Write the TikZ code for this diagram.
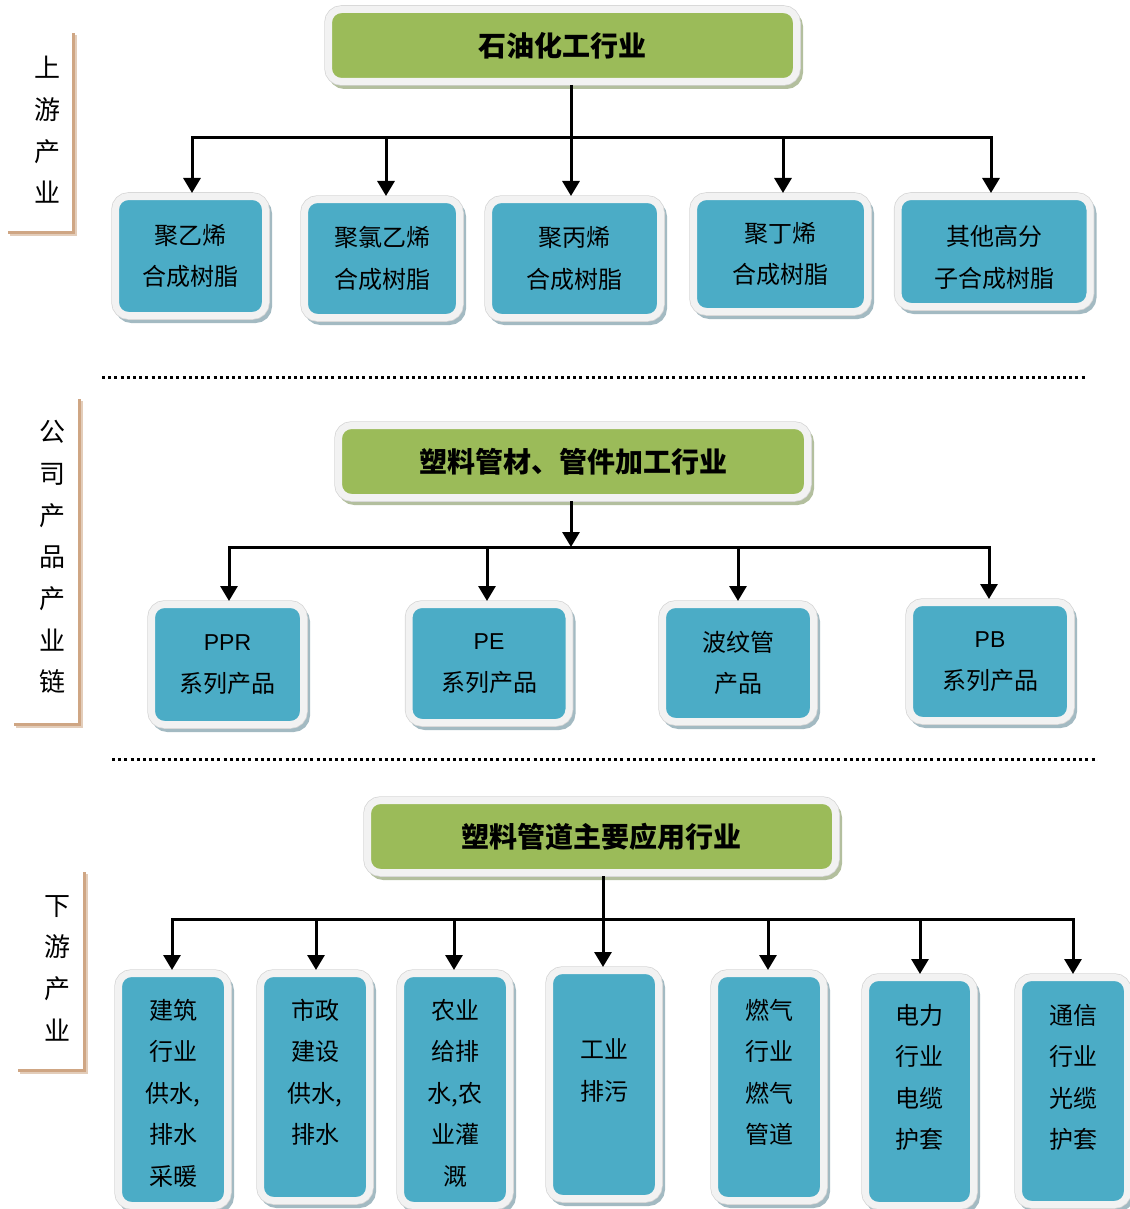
\documentclass[tikz,border=0pt]{standalone}
\usepackage{fontspec}
\setmainfont{Liberation Sans}
\newfontfamily\cjk{Noto Sans CJK SC}
\usetikzlibrary{arrows.meta}
\definecolor{tgreen}{HTML}{9BBB59}
\definecolor{tblue}{HTML}{4BACC6}
\definecolor{rim}{HTML}{F2F2F2}
\definecolor{rimline}{HTML}{D6D6D6}
\definecolor{shblue}{HTML}{A3BAC2}
\definecolor{shgreen}{HTML}{B3BF9E}
\definecolor{bracket}{HTML}{CFA684}
\definecolor{bracketsh}{HTML}{E3CDBA}
\tikzset{
  card/.style={rounded corners=13pt, inner sep=0pt, outer sep=3.5pt, align=center,
    line width=7pt, draw=rim,
    preaction={draw=#1, fill=#1, line width=7pt, transform canvas={shift={(3pt,-4pt)}}},
    preaction={draw=rimline, line width=8.5pt}},
  bluecard/.style={card=shblue, fill=tblue, font=\cjk\fontsize{24}{41.5}\selectfont},
  greencard/.style={card=shgreen, fill=tgreen, minimum width=468pt, minimum height=72pt,
    font=\cjk\bfseries\fontsize{28}{34}\selectfont},
  sidelabel/.style={align=center, inner sep=0pt, font=\cjk\fontsize{26}{41.7}\selectfont},
  link/.style={line width=3pt, line cap=rect},
  arr/.style={line width=3pt, -{Triangle[length=15pt,width=17pt]}},
  dotline/.style={line width=3pt, dash pattern=on 3pt off 3.2pt},
  brk/.style={line width=3pt, draw=bracket},
  brksh/.style={line width=3pt, draw=bracketsh},
  lat/.style={font=\fontsize{23}{41}\selectfont}
}
\begin{document}
\begin{tikzpicture}[x=1pt,y=-1pt]
\useasboundingbox (0,0) rectangle (1129,1209);

% ---------- side labels and brackets ----------
\node[sidelabel] (l1) at (47,130) {上\\游\\产\\业};
\node[sidelabel] (l2) at (52,557) {公\\司\\产\\品\\产\\业\\链};
\node[sidelabel] (l3) at (57,968) {下\\游\\产\\业};
\draw[brksh] (9.5,234) -- (75,234) -- (75,35);
\draw[brk] (8,232) -- (73,232) -- (73,33);
\draw[brksh] (15.5,726) -- (81,726) -- (81,401);
\draw[brk] (14,724) -- (79,724) -- (79,399);
\draw[brksh] (19.5,1072) -- (86,1072) -- (86,874);
\draw[brk] (18,1070) -- (84,1070) -- (84,872);

% ---------- dotted separators ----------
\coordinate (d1a) at (102,377); \coordinate (d1b) at (1086,377);
\coordinate (d2a) at (112,759); \coordinate (d2b) at (1096,759);
\draw[dotline] (d1a) -- (d1b);
\draw[dotline] (d2a) -- (d2b);

% ---------- top section ----------
\node[greencard] (t1) at (562.5,45.5) {石油化工行业};
\node[bluecard, minimum width=150pt, minimum height=119pt] (b1) at (190.5,256) {聚乙烯\\合成树脂};
\node[bluecard, minimum width=155pt, minimum height=118pt] (b2) at (382,258.5) {聚氯乙烯\\合成树脂};
\node[bluecard, minimum width=172pt, minimum height=118pt] (b3) at (574.5,258.5) {聚丙烯\\合成树脂};
\node[bluecard, minimum width=174pt, minimum height=115pt] (b4) at (780.5,254) {聚丁烯\\合成树脂};
\node[bluecard, minimum width=192pt, minimum height=110pt] (b5) at (994,251.5) {\mbox{}\\[-9.5pt]其他高分\\子合成树脂};

\coordinate (k1) at (192,138); \coordinate (k2) at (386,138);
\coordinate (k3) at (571,138); \coordinate (k4) at (783,138);
\coordinate (k5) at (991,138);
\draw[link] (k1) -- (k5);
\draw[arr] (k3 |- t1.south) -- (k3 |- b3.north);
\draw[arr] (k1) -- (k1 |- b1.north);
\draw[arr] (k2) -- (k2 |- b2.north);
\draw[arr] (k4) -- (k4 |- b4.north);
\draw[arr] (k5) -- (k5 |- b5.north);

% ---------- middle section ----------
\node[greencard, minimum width=469pt] (t2) at (573,461.5) {塑料管材、管件加工行业};
\node[bluecard, minimum width=152pt, minimum height=120pt] (p1) at (227.5,664.5) {{\normalfont\fontsize{23}{41}\selectfont PPR}\\系列产品};
\node[bluecard, minimum width=160pt, minimum height=118pt] (p2) at (489,663.5) {{\normalfont\fontsize{23}{41}\selectfont PE}\\系列产品};
\node[bluecard, minimum width=151pt, minimum height=117pt] (p3) at (738,663) {波纹管\\产品};
\node[bluecard, minimum width=161pt, minimum height=118pt] (p4) at (990,661.5) {{\normalfont\fontsize{23}{41}\selectfont PB}\\系列产品};

\coordinate (m0) at (571,547);
\coordinate (m1) at (229,547); \coordinate (m2) at (487,547);
\coordinate (m3) at (738,547); \coordinate (m4) at (989,547);
\draw[link] (m1) -- (m4);
\draw[arr] (m0 |- t2.south) -- (m0);
\draw[arr] (m1) -- (m1 |- p1.north);
\draw[arr] (m2) -- (m2 |- p2.north);
\draw[arr] (m3) -- (m3 |- p3.north);
\draw[arr] (m4) -- (m4 |- p4.north);

% ---------- bottom section ----------
\node[greencard] (t3) at (601.5,836.5) {塑料管道主要应用行业};
\node[bluecard, minimum width=109pt, minimum height=232pt] (c1) at (173,1089.5) {\mbox{}\\[-14.5pt]建筑\\行业\\供水,\\排水\\采暖};
\node[bluecard, minimum width=109pt, minimum height=227pt] (c2) at (315,1087) {市政\\建设\\供水,\\排水\\[-10pt]\mbox{}};
\node[bluecard, minimum width=109pt, minimum height=232pt] (c3) at (455,1089.5) {\mbox{}\\[-14.5pt]农业\\给排\\水,农\\业灌\\溉};
\node[bluecard, minimum width=109pt, minimum height=228pt] (c4) at (604,1084.5) {工业\\排污\\[-12pt]\mbox{}};
\node[bluecard, minimum width=109pt, minimum height=227pt] (c5) at (769,1087) {燃气\\行业\\燃气\\管道\\[-10pt]\mbox{}};
\node[bluecard, minimum width=108pt, minimum height=228pt] (c6) at (919.5,1091.5) {电力\\行业\\电缆\\护套\\[-11.5pt]\mbox{}};
\node[bluecard, minimum width=109pt, minimum height=227pt] (c7) at (1073,1091) {通信\\行业\\光缆\\护套\\[-12pt]\mbox{}};

\coordinate (n1) at (172,919); \coordinate (n2) at (316,919);
\coordinate (n3) at (454,919); \coordinate (n4) at (603,919);
\coordinate (n5) at (768,919); \coordinate (n6) at (920,919);
\coordinate (n7) at (1073,919);
\draw[link] (n1) -- (n7);
\draw[arr] (n4 |- t3.south) -- (n4 |- c4.north);
\draw[arr] (n1) -- (n1 |- c1.north);
\draw[arr] (n2) -- (n2 |- c2.north);
\draw[arr] (n3) -- (n3 |- c3.north);
\draw[arr] (n5) -- (n5 |- c5.north);
\draw[arr] (n6) -- (n6 |- c6.north);
\draw[arr] (n7) -- (n7 |- c7.north);
\end{tikzpicture}
\end{document}
